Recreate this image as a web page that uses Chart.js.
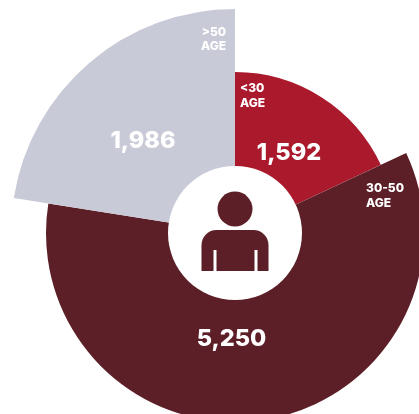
<!DOCTYPE html>
<html>
<head>
<meta charset="utf-8">
<title>Age split</title>
<script src="https://cdn.jsdelivr.net/npm/chart.js@4"></script>
<style>
html, body { margin: 0; height: 100%; overflow: hidden; background: #fff; }
#wrap { position: relative; width: 419px; height: 414px; overflow: hidden; }
#ageChart { position: absolute; left: 5px; top: 3px; }
</style>
</head>
<body>
<div id="wrap"><canvas id="ageChart" width="460" height="460"></canvas></div>
<script>
var ageGroups = ['<30 AGE', '30-50 AGE', '>50 AGE'];
var counts = [1592, 5250, 1986];
// how far each wedge reaches out, on the radial axis
var reach = [161, 189, 224];
var colors = ['#aa192c', '#5c1f27', '#c9cad7'];

var total = counts.reduce(function (a, b) { return a + b; }, 0);
var font = 'Inter, sans-serif';

function text(ctx, str, x, y, size, align) {
    ctx.font = '800 ' + size + 'px ' + font;
    ctx.textAlign = align || 'center';
    ctx.textBaseline = 'middle';
    ctx.fillText(str, x, y);
}

// white hub, the person and the labels sit on top of the wedges
var hubPlugin = {
    id: 'hub',
    afterDatasetsDraw: function (chart) {
        var ctx = chart.ctx;
        var r = chart.scales.r;
        var cx = r.xCenter;
        var cy = r.yCenter;

        ctx.save();
        ctx.fillStyle = '#fff';
        ctx.beginPath();
        ctx.arc(cx, cy, 67, 0, Math.PI * 2);
        ctx.fill();

        // head
        ctx.fillStyle = colors[1];
        ctx.beginPath();
        ctx.arc(cx, cy - 24, 17.5, 0, Math.PI * 2);
        ctx.fill();

        // shoulders and arms
        ctx.beginPath();
        ctx.roundRect(cx - 33.5, cy - 3, 67, 41, [15, 15, 0, 0]);
        ctx.fill();
        ctx.fillStyle = '#fff';
        ctx.fillRect(cx - 21.5, cy + 17, 3, 21);
        ctx.fillRect(cx + 19.5, cy + 17, 3, 21);

        ctx.fillStyle = '#fff';
        text(ctx, counts[0].toLocaleString('en-US'), cx + 54, cy - 80, 23.5);
        text(ctx, counts[1].toLocaleString('en-US'), cx - 3.5, cy + 106, 23.5);
        text(ctx, counts[2].toLocaleString('en-US'), cx - 92, cy - 92, 23.5);

        text(ctx, '<30', cx + 5, cy - 145, 12, 'left');
        text(ctx, 'AGE', cx + 5, cy - 130, 12, 'left');
        text(ctx, '30-50', cx + 131, cy - 45, 12, 'left');
        text(ctx, 'AGE', cx + 131, cy - 30, 12, 'left');
        text(ctx, '>50', cx - 9, cy - 201, 12, 'right');
        text(ctx, 'AGE', cx - 9, cy - 187, 12, 'right');
        ctx.restore();
    }
};

new Chart('ageChart', {
    type: 'polarArea',
    data: {
        labels: ageGroups,
        datasets: [
            {
                data: reach,
                backgroundColor: colors,
                borderWidth: 0,
                // wedge width follows the head count
                angle: function (c) { return counts[c.dataIndex] / total * 360; }
            }
        ]
    },
    options: {
        responsive: false,
        animation: false,
        scales: {
            r: {
                display: false,
                min: 0,
                max: 230
            }
        },
        plugins: {
            legend: {
                display: false
            },
            tooltip: {
                callbacks: {
                    label: function (c) { return counts[c.dataIndex].toLocaleString('en-US'); }
                }
            }
        }
    },
    plugins: [hubPlugin]
});
</script>
</body>
</html>
